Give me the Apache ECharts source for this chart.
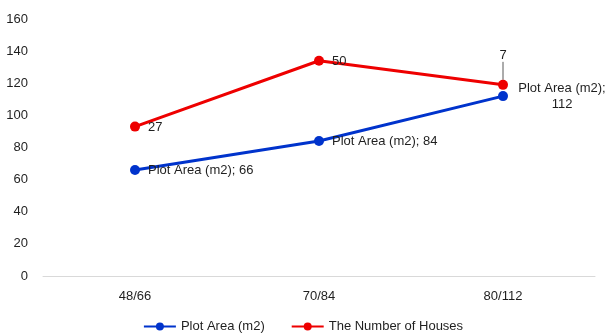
<!DOCTYPE html>
<html><head><meta charset="utf-8">
<script src="https://cdn.jsdelivr.net/npm/echarts@6/dist/echarts.min.js"></script>
<style>html,body{margin:0;padding:0;background:#fff}#c{width:606px;height:336px}</style>
</head><body><div id="c"></div>
<script>
const categories = ['48/66', '70/84', '80/112'];
const plotArea = [66, 84, 112];
const numberOfHouses = [27, 50, 7];
const seriesNames = ['Plot Area (m2)', 'The Number of Houses'];
const yMin = 0, yMax = 160, yStep = 20;

const FONT = 'Liberation Sans';
const TXT = '#1f1f1f';
const last = categories.length - 1;
const chart = echarts.init(document.getElementById('c'), null, {renderer: 'canvas'});
chart.setOption({
  animation: false,
  textStyle: {fontFamily: FONT},
  grid: {left: 43, right: 11, top: 19, bottom: 60, containLabel: false},
  legend: {
    bottom: 3, left: 'center', padding: 0, itemWidth: 32, itemHeight: 10, itemGap: 26,
    textStyle: {fontFamily: FONT, fontSize: 13, color: TXT},
    data: seriesNames
  },
  xAxis: {
    type: 'category', data: categories, boundaryGap: true,
    axisLine: {lineStyle: {color: '#d9d9d9', width: 1}},
    axisTick: {show: false},
    axisLabel: {fontFamily: FONT, fontSize: 13, color: TXT, margin: 14}
  },
  yAxis: {
    type: 'value', min: yMin, max: yMax, interval: yStep,
    splitLine: {show: false}, axisLine: {show: false}, axisTick: {show: false},
    axisLabel: {fontFamily: FONT, fontSize: 13, color: TXT, margin: 15}
  },
  series: [
    {
      name: seriesNames[0], type: 'line', stack: 'total',
      data: plotArea.map((v, i) => i === last ? {value: v, label: {align: 'center', offset: [46, 0]}} : v),
      symbol: 'circle', symbolSize: 10,
      itemStyle: {color: '#0033cc'}, lineStyle: {width: 3, color: '#0033cc'},
      label: {
        show: true, position: 'right', distance: 8,
        fontFamily: FONT, fontSize: 13, color: TXT, lineHeight: 16,
        formatter: p => p.dataIndex === last ? seriesNames[0] + ';\n' + p.value : seriesNames[0] + '; ' + p.value
      }
    },
    {
      name: seriesNames[1], type: 'line', stack: 'total',
      data: numberOfHouses.map((v, i) => i === last
        ? {value: v, label: {position: 'top', distance: 4}, labelLine: {show: true}}
        : {value: v, labelLine: {show: false}}),
      symbol: 'circle', symbolSize: 10,
      itemStyle: {color: '#ee0000'}, lineStyle: {width: 3, color: '#ee0000'},
      label: {
        show: true, position: 'right', distance: 8,
        fontFamily: FONT, fontSize: 13, color: TXT
      },
      labelLine: {show: false, lineStyle: {color: '#595959', width: 1}},
      labelLayout: p => p.dataIndex === last ? {dy: -14} : {dy: 1}
    }
  ]
});
</script></body></html>
